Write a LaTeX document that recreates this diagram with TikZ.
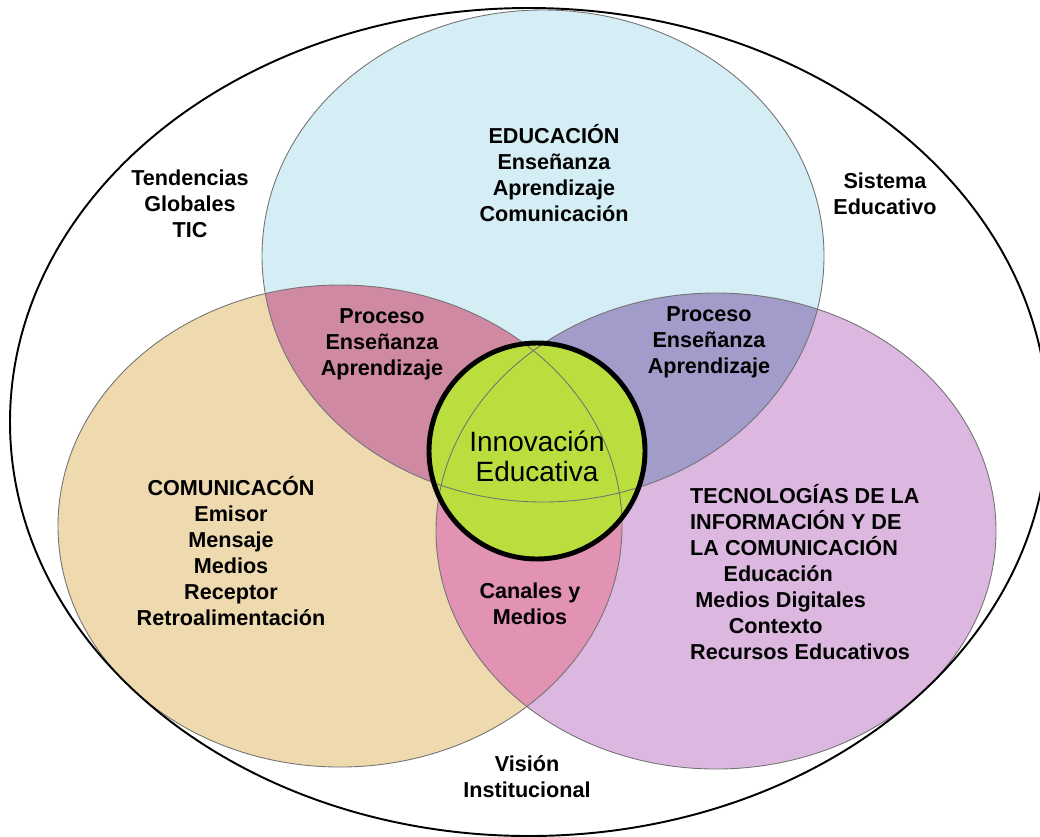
\documentclass[tikz,border=0pt]{standalone}
\usepackage{fontspec}
\setmainfont{Liberation Sans}
\usepackage{tikz}

\definecolor{celeste}{HTML}{D5EEF5}
\definecolor{arena}{HTML}{EFD9AE}
\definecolor{lila}{HTML}{DCB8E0}
\definecolor{malva}{HTML}{D089A3}
\definecolor{lavanda}{HTML}{A29CCB}
\definecolor{rosa}{HTML}{E293B3}
\definecolor{pistacho}{HTML}{BBDE3F}

% las tres elipses y el circulo central
\newcommand{\elEduc}{(543,256) ellipse [x radius=281, y radius=246]}
\newcommand{\elComu}{(340,526) ellipse [x radius=282, y radius=241]}
\newcommand{\elTic}{(716,531) ellipse [x radius=280, y radius=238]}
\newcommand{\ciInnov}{(537,451) circle [radius=108]}

\begin{document}
\begin{tikzpicture}[x=0.02cm, y=-0.02cm,
    texto/.style={font=\bfseries\fontsize{12.3}{14.8}\selectfont, align=center},
    borde/.style={draw=black!55, line width=0.5pt}]
    \useasboundingbox (0,0) rectangle (1040,836);

    % rellenos
    \fill[celeste] \elEduc;
    \fill[arena] \elComu;
    \fill[lila] \elTic;

    % intersecciones
    \begin{scope}
        \clip \elEduc;
        \fill[malva] \elComu;
        \fill[lavanda] \elTic;
    \end{scope}
    \begin{scope}
        \clip \elComu;
        \fill[rosa] \elTic;
    \end{scope}
    \fill[pistacho] \ciInnov;

    % contornos
    \draw[borde] \elEduc;
    \draw[borde] \elComu;
    \draw[borde] \elTic;
    \draw[line width=1.1pt] (529,422) ellipse [x radius=519, y radius=414];
    \draw[line width=2.8pt] \ciInnov;

    % textos
    \node[texto] (tendencias) at (190,204) {Tendencias\\Globales\\TIC};
    \node[texto] (sistema) at (885,194) {Sistema\\Educativo};
    \node[texto] (educacion) at (554,173) {EDUCACIÓN\\Enseñanza\\Aprendizaje\\Comunicación};
    \node[texto] (procesoA) at (382,344) {Proceso\\Enseñanza\\Aprendizaje};
    \node[texto] (procesoB) at (709,342) {Proceso\\Enseñanza\\Aprendizaje};
    \node[align=center, font=\fontsize{15.9}{17.1}\selectfont] (innovacion) at (537,456) {Innovación\\Educativa};
    \node[texto] (comunicacion) at (231,551) {COMUNICACÓN\\Emisor\\Mensaje\\Medios\\Receptor\\Retroalimentación};
    \node[texto] (canales) at (530,604) {Canales y\\Medios};
    \node[texto, align=left, anchor=west] (tic) at (684,572) {TECNOLOGÍAS DE LA\\INFORMACIÓN Y DE\\LA COMUNICACIÓN\\
        \hspace*{19pt}Educación\\\hspace*{3pt}Medios Digitales\\\hspace*{22pt}Contexto\\Recursos Educativos};
    \node[texto] (vision) at (527,777) {Visión\\Institucional};
\end{tikzpicture}
\end{document}
